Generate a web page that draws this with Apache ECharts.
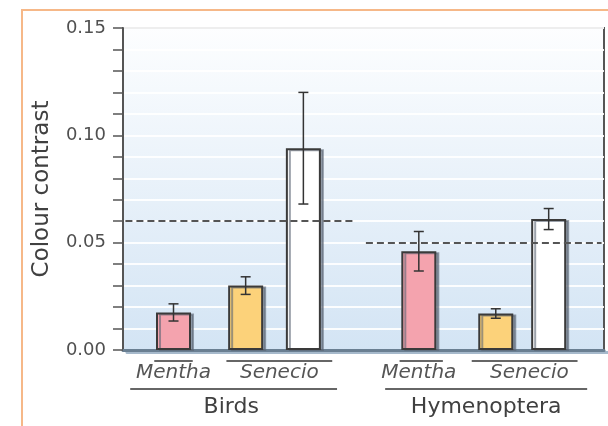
<!DOCTYPE html>
<html>
<head>
<meta charset="utf-8">
<script src="https://cdn.jsdelivr.net/npm/echarts@6/dist/echarts.min.js"></script>
<style>
html,body{margin:0;padding:0;background:#fff;}
#main{width:608px;height:426px;}
</style>
</head>
<body>
<div id="main"></div>
<script>
// ---- data ----
var groups = ['Birds', 'Hymenoptera'];
var plantLabels = ['Mentha', 'Senecio'];
var morphColours = ['#f4a3ae', '#fcd27a', '#ffffff']; // Mentha, Senecio (yellow), Senecio (white)
var birdsValues = [0.0175, 0.030, 0.094];
var birdsErrors = [0.004, 0.0041, 0.026];
var hymenValues = [0.046, 0.017, 0.061];
var hymenErrors = [0.0092, 0.0022, 0.0049];
var thresholds = [0.06, 0.05];
var yTicks = [0, 0.05, 0.10, 0.15];

// ---- layout (category slots on the x axis) ----
var SLOT_COUNT = 100;
var barSlots = [[10, 25, 37], [61, 77, 88]];
var plantLabelSlots = [[10, 32], [61, 84]];
var groupLabelSlots = [22, 75];
var thresholdSlots = [[0, 48], [50, 99]];
var plantLineSlots = [[[6, 14], [21, 43]], [[57, 66], [72, 94]]];
var groupLineSlots = [[1, 44], [54, 96]];

var FONT = 'DejaVu Sans';

var slots = [];
var groupSlotLabels = [];
for (var i = 0; i < SLOT_COUNT; i++) { slots.push(''); groupSlotLabels.push(''); }
plantLabelSlots.forEach(function (g) {
  g.forEach(function (s, j) { slots[s] = plantLabels[j]; });
});
groupLabelSlots.forEach(function (s, j) { groupSlotLabels[s] = groups[j]; });

var valuesByGroup = [birdsValues, hymenValues];
var errorsByGroup = [birdsErrors, hymenErrors];

var barData = [];
for (var i = 0; i < SLOT_COUNT; i++) barData.push('-');
var errData = [];
valuesByGroup.forEach(function (vals, g) {
  vals.forEach(function (v, j) {
    var s = barSlots[g][j];
    barData[s] = { value: v, itemStyle: { color: morphColours[j] } };
    errData.push([s, v - errorsByGroup[g][j], v + errorsByGroup[g][j]]);
  });
});

var markLineData = thresholds.map(function (t, g) {
  return [{ coord: [thresholdSlots[g][0], t] }, { coord: [thresholdSlots[g][1], t] }];
});

var chart = echarts.init(document.getElementById('main'));

var option = {
  animation: false,
  textStyle: { fontFamily: FONT },
  grid: {
    left: 123, right: 4, top: 28, bottom: 76,
    show: true,
    borderColor: '#555', borderWidth: 2,
    backgroundColor: new echarts.graphic.LinearGradient(0, 0, 0, 1, [
      { offset: 0, color: '#fdfeff' },
      { offset: 1, color: '#d3e4f4' }
    ])
  },
  xAxis: [{
    type: 'category',
    data: slots,
    boundaryGap: true,
    axisLine: { show: true, lineStyle: { color: '#6a7f92', width: 3, shadowColor: '#a6b9cb', shadowOffsetY: 2, shadowOffsetX: 4 } },
    axisTick: { show: false },
    splitLine: { show: false },
    axisLabel: { interval: 0, margin: 13, fontSize: 20, fontStyle: 'italic', color: '#555', fontFamily: FONT }
  }, {
    type: 'category',
    position: 'bottom',
    data: groupSlotLabels,
    axisLine: { show: false },
    axisTick: { show: false },
    splitLine: { show: false },
    axisLabel: { interval: 0, margin: 46, fontSize: 22, color: '#404040', fontFamily: FONT }
  }],
  yAxis: {
    type: 'value',
    min: yTicks[0], max: yTicks[yTicks.length - 1], interval: 0.05,
    name: 'Colour contrast',
    nameLocation: 'middle',
    nameGap: 69,
    nameTextStyle: { fontSize: 23, color: '#404040', fontFamily: FONT },
    axisLine: { show: true, lineStyle: { color: '#555', width: 2 } },
    axisTick: { show: true, length: 10, lineStyle: { color: '#555', width: 1.5 } },
    minorTick: { show: true, splitNumber: 5, length: 10, lineStyle: { color: '#555', width: 1.5 } },
    axisLabel: { fontSize: 18, color: '#505050', margin: 17, fontFamily: FONT,
      formatter: function (v) { return v.toFixed(2); } },
    splitLine: { show: true, lineStyle: { color: 'rgba(255,255,255,0.9)', width: 2 } },
    minorSplitLine: { show: true, lineStyle: { color: 'rgba(255,255,255,0.9)', width: 2 } }
  },
  series: [{
    type: 'bar',
    xAxisIndex: 0,
    data: barData,
    barWidth: 35,
    itemStyle: {
      borderColor: '#3a3a3a', borderWidth: 2,
      shadowColor: 'rgba(90,100,115,0.6)', shadowOffsetX: 3, shadowOffsetY: 1, shadowBlur: 0
    },
    z: 2
  }, {
    type: 'custom',
    xAxisIndex: 0,
    data: errData,
    encode: { x: 0, y: [1, 2] },
    z: 4,
    renderItem: function (params, api) {
      var x = api.coord([api.value(0), 0])[0];
      var lo = api.coord([api.value(0), api.value(1)])[1];
      var hi = api.coord([api.value(0), api.value(2)])[1];
      var w = 5;
      var st = { stroke: '#333', lineWidth: 1.5 };
      return { type: 'group', children: [
        { type: 'line', shape: { x1: x, y1: lo, x2: x, y2: hi }, style: st },
        { type: 'line', shape: { x1: x - w, y1: lo, x2: x + w, y2: lo }, style: st },
        { type: 'line', shape: { x1: x - w, y1: hi, x2: x + w, y2: hi }, style: st }
      ] };
    }
  }, {
    type: 'line',
    xAxisIndex: 0,
    data: [],
    z: 5,
    markLine: {
      silent: true,
      symbol: ['none', 'none'],
      label: { show: false },
      lineStyle: { color: '#555', type: [7, 4], width: 2 },
      data: markLineData
    }
  }]
};
chart.setOption(option);

// lines above the plant and group labels, positioned from the axis scales
var y0 = chart.convertToPixel({ yAxisIndex: 0 }, 0);
function px(s) { return chart.convertToPixel({ xAxisIndex: 0 }, s); }
var graphics = [{
  type: 'rect', silent: true, z: -10,
  shape: { x: 22, y: 10, width: 800, height: 600 },
  style: { fill: 'none', stroke: '#f6b888', lineWidth: 2 }
}];
var lineStyle = { stroke: '#666', lineWidth: 2 };
plantLineSlots.forEach(function (g) {
  g.forEach(function (r) {
    graphics.push({ type: 'line', silent: true, shape: { x1: px(r[0]), y1: y0 + 11, x2: px(r[1]), y2: y0 + 11 }, style: lineStyle });
  });
});
groupLineSlots.forEach(function (r) {
  graphics.push({ type: 'line', silent: true, shape: { x1: px(r[0]), y1: y0 + 39, x2: px(r[1]), y2: y0 + 39 }, style: lineStyle });
});
chart.setOption({ graphic: graphics });
</script>
</body>
</html>
